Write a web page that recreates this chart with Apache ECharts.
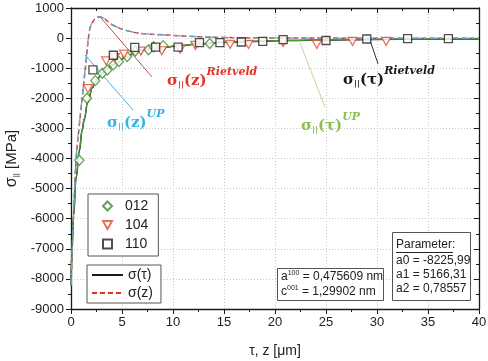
<!DOCTYPE html>
<html><head><meta charset="utf-8">
<script src="https://cdn.jsdelivr.net/npm/echarts@6/dist/echarts.min.js"></script>
<style>html,body{margin:0;padding:0;background:#fff}#c{width:488px;height:361px}</style>
</head><body><div id="c"></div>
<script>
// ---- data ----
const xRange = [0, 40];
const yRange = [-9000, 1000];

// sigma(tau) fit curve (black) and UP curve (green)
const tauGrid   = [0, 0.1, 0.25, 0.5, 0.82, 1.1, 1.3, 1.63, 2.1, 2.4, 3.07, 3.6, 4.15, 5.5, 6.3, 6.8, 8.7, 10.7, 12.6, 14.6, 17.5, 21.5, 25, 29.3, 35, 40];
const sigmaTau  = [-8230, -7000, -5900, -4650, -3750, -3050, -2700, -2150, -1650, -1450, -1170, -1010, -880, -620, -480, -400, -320, -250, -190, -150, -110, -80, -60, -45, -35, -30];
const sigmaTauUP= [-8230, -6950, -5850, -4600, -3700, -3020, -2680, -2130, -1640, -1440, -1160, -1000, -870, -610, -470, -395, -315, -245, -185, -145, -105, -75, -55, -40, -30, -25];

// sigma(z) fit curve (red dashed) and UP curve (cyan dash-dot)
const zGrid     = [0, 0.2, 0.5, 0.8, 1.15, 1.5, 1.83, 2.15, 2.5, 2.8, 3.3, 3.95, 5.1, 6.2, 7.5, 9.4, 11, 12.6, 15, 20, 25, 30, 40];
const sigmaZ    = [-8230, -6300, -4050, -2950, -1830, -700, 280, 550, 680, 700, 640, 460, 290, 190, 140, 100, 70, 45, 20, 5, 0, -5, -5];
const sigmaZUP  = [-8230, -6250, -4000, -2900, -1790, -660, 300, 560, 690, 705, 645, 465, 295, 195, 140, 100, 70, 45, 20, 5, 0, -5, -5];

// measured points
const pts012 = [[0.82,-4057],[1.57,-2000],[2.38,-1413],[3.07,-1167],[3.56,-1057],[4.15,-890],[4.7,-780],[5.5,-613],[6.3,-430],[7.6,-390],[8.1,-290],[9.05,-250],[13.6,-180]];
const pts104 = [[1.67,-1680],[3.45,-760],[4.3,-650],[5.2,-530],[6.85,-430],[8.9,-420],[10.7,-370],[12.2,-240],[15.6,-210],[17.4,-210],[20.8,-140],[24.1,-210],[27.6,-110],[30.9,-110]];
const pts110 = [[2.15,-1057],[4.15,-570],[6.25,-310],[8.3,-300],[10.5,-300],[12.6,-150],[14.6,-150],[16.7,-130],[18.8,-110],[20.8,-50],[25,-80],[29,-30],[33,-15],[37,-20]];

// pointer lines (data coordinates)
const ptrRed   = [[2.84, 710], [7.94, -1290]];
const ptrCyan  = [[1.37, -557], [6.08, -2390]];
const ptrGreen = [[22.45, -157], [24.9, -2290]];
const ptrBlack = [[29.3, -57], [30.1, -857]];

const zip = (xs, ys) => xs.map((x, i) => [x, ys[i]]);
const ml = (p, color) => ({
  symbol: ['none', 'none'], silent: true, animation: false,
  label: { show: false },
  lineStyle: { color: color, type: 'solid', width: 1 },
  data: [[{ coord: p[0] }, { coord: p[1] }]]
});

const RED = '#e2342b', CYAN = '#35b4e2', GREEN = '#8cc152', DGREEN = '#4a9a35', BLACK = '#1a1a1a';
const FONT = 'Liberation Sans, Arial, sans-serif';
const SERIF = 'DejaVu Serif, serif';
const TRI_DOWN = 'path://M0,0 L10,0 L5,9 Z';

const chart = echarts.init(document.getElementById('c'), null, { renderer: 'canvas' });

function mathLabel(x, y, color, arg, sup) {
  return {
    type: 'text', x: x, y: y, z: 100,
    style: {
      text: '{m|σ}{s|||}{m|(' + arg + ')}{p|' + sup + '}',
      fill: color, textVerticalAlign: 'middle', textAlign: 'left',
      rich: {
        m: { fontSize: 15, fontWeight: 'bold', fontFamily: SERIF, fill: color, lineHeight: 22, verticalAlign: 'bottom' },
        s: { fontSize: 8, fontWeight: 'bold', fontFamily: SERIF, fill: color, lineHeight: 22, verticalAlign: 'bottom' },
        p: { fontSize: 11, fontWeight: 'bold', fontStyle: 'italic', fontFamily: SERIF, fill: color, lineHeight: 22, verticalAlign: 'top' }
      }
    }
  };
}

const plain = v => String(v);

const option = {
  animation: false,
  backgroundColor: '#fff',
  grid: { left: 71, right: 9, top: 8, bottom: 52, outerBoundsMode: 'none', containLabel: false },
  xAxis: [{
    type: 'value', min: xRange[0], max: xRange[1], interval: 5, position: 'bottom',
    axisLine: { show: true, onZero: false, lineStyle: { color: BLACK, width: 1.3 } },
    axisTick: { show: true, inside: false, length: 5, lineStyle: { color: BLACK } },
    minorTick: { show: true, splitNumber: 2, length: 3, lineStyle: { color: BLACK } },
    axisLabel: { fontSize: 13, color: '#222', fontFamily: FONT, margin: 7, formatter: plain },
    splitLine: { show: true, lineStyle: { color: '#c8c8c8', type: [1, 2] } },
    name: 'τ, z [μm]', nameLocation: 'middle', nameGap: 35,
    nameTextStyle: { fontSize: 14, color: '#222', fontFamily: FONT }
  }, {
    type: 'value', min: xRange[0], max: xRange[1], interval: 5, position: 'top',
    axisLine: { show: true, onZero: false, lineStyle: { color: BLACK, width: 1.3 } },
    axisTick: { show: true, inside: true, length: 5, lineStyle: { color: BLACK } },
    minorTick: { show: true, splitNumber: 2, length: 3, lineStyle: { color: BLACK } },
    axisLabel: { show: false }, splitLine: { show: false }
  }],
  yAxis: [{
    type: 'value', min: yRange[0], max: yRange[1], interval: 1000, position: 'left',
    axisLine: { show: true, onZero: false, lineStyle: { color: BLACK, width: 1.3 } },
    axisTick: { show: true, inside: false, length: 5, lineStyle: { color: BLACK } },
    minorTick: { show: true, splitNumber: 2, length: 3, lineStyle: { color: BLACK } },
    axisLabel: { fontSize: 13, color: '#222', fontFamily: FONT, margin: 7, formatter: plain },
    splitLine: { show: true, lineStyle: { color: '#c8c8c8', type: [1, 2] } },
    name: '{s|σ}{b|||} [MPa]', nameLocation: 'middle', nameGap: 51,
    nameTextStyle: { fontSize: 15, color: '#222', fontFamily: FONT,
      rich: { s: { fontSize: 16, fontFamily: FONT, color: '#222' }, b: { fontSize: 8, color: '#222', verticalAlign: 'bottom', padding: [8, 0, 0, 0] } } }
  }, {
    type: 'value', min: yRange[0], max: yRange[1], interval: 1000, position: 'right',
    axisLine: { show: true, onZero: false, lineStyle: { color: BLACK, width: 1.3 } },
    axisTick: { show: true, inside: true, length: 5, lineStyle: { color: BLACK } },
    minorTick: { show: true, splitNumber: 2, length: 3, lineStyle: { color: BLACK } },
    axisLabel: { show: false }, splitLine: { show: false }
  }],
  legend: [{
    left: 88, top: 194, orient: 'vertical',
    data: ['012', '104', '110'],
    backgroundColor: '#fff', borderColor: '#555', borderWidth: 1,
    padding: [5, 10, 5, 14], itemGap: 5, itemWidth: 9, itemHeight: 9,
    textStyle: { fontSize: 14, color: '#222', fontFamily: FONT, padding: [0, 0, 0, 8] }
  }, {
    left: 87, top: 265, orient: 'vertical',
    data: ['σ(τ)', 'σ(z)'],
    backgroundColor: '#fff', borderColor: '#555', borderWidth: 1,
    padding: [3, 8, 3, 4], itemGap: 4, itemWidth: 31, itemHeight: 12,
    itemStyle: { opacity: 0 },
    textStyle: { fontSize: 14, color: '#222', fontFamily: FONT }
  }],
  series: [
    { name: 'σ(τ)', type: 'line', data: zip(tauGrid, sigmaTau), showSymbol: false, symbol: 'none',
      smooth: 0.4, smoothMonotone: 'x', z: 3,
      lineStyle: { color: BLACK, width: 1.5 }, itemStyle: { color: BLACK },
      markLine: ml(ptrBlack, '#333') },
    { name: 'σ(τ) UP', type: 'line', data: zip(tauGrid, sigmaTauUP), showSymbol: false, symbol: 'none',
      smooth: 0.4, smoothMonotone: 'x', z: 4,
      lineStyle: { color: DGREEN, width: 1.3 }, itemStyle: { color: DGREEN },
      markLine: ml(ptrGreen, '#c9d39a') },
    { name: 'σ(z)', type: 'line', data: zip(zGrid, sigmaZ), showSymbol: false, symbol: 'none',
      smooth: 0.4, z: 3,
      lineStyle: { color: RED, width: 1.5, type: [5, 3] }, itemStyle: { color: RED },
      markLine: ml(ptrRed, '#c0504d') },
    { name: 'σ(z) UP', type: 'line', data: zip(zGrid, sigmaZUP), showSymbol: false, symbol: 'none',
      smooth: 0.4, z: 4,
      lineStyle: { color: '#6aa6c8', width: 1.3, type: [8, 3, 2, 3] }, itemStyle: { color: CYAN },
      markLine: ml(ptrCyan, CYAN) },
    { name: '012', type: 'scatter', data: pts012, symbol: 'diamond', symbolSize: [9, 10], z: 10,
      itemStyle: { color: '#fff', borderColor: '#3c8c30', borderWidth: 1.3 } },
    { name: '104', type: 'scatter', data: pts104, symbol: TRI_DOWN, symbolSize: [9, 8], z: 10,
      itemStyle: { color: '#fff', borderColor: '#e24a32', borderWidth: 1.3 } },
    { name: '110', type: 'scatter', data: pts110, symbol: 'rect', symbolSize: 8, z: 11,
      itemStyle: { color: '#fff', borderColor: '#222', borderWidth: 1.3 } }
  ],
  graphic: [
    mathLabel(167, 78, RED, 'z', 'Rietveld'),
    mathLabel(343, 77, BLACK, 'τ', 'Rietveld'),
    mathLabel(107, 120, CYAN, 'z', 'UP'),
    mathLabel(301, 123, GREEN, 'τ', 'UP'),
    { type: 'rect', z: 50, shape: { x: 277.5, y: 268.5, width: 106, height: 32 },
      style: { fill: '#fff', stroke: '#555', lineWidth: 1 } },
    { type: 'text', z: 51, x: 281, y: 277, style: {
        text: 'a{u|100} = 0,475609 nm', fill: '#222', font: '12px ' + FONT, textVerticalAlign: 'middle',
        rich: { u: { fontSize: 7, fontFamily: FONT, fill: '#222', verticalAlign: 'top', lineHeight: 14 } } } },
    { type: 'text', z: 51, x: 281, y: 292, style: {
        text: 'c{u|001} = 1,29902 nm', fill: '#222', font: '12px ' + FONT, textVerticalAlign: 'middle',
        rich: { u: { fontSize: 7, fontFamily: FONT, fill: '#222', verticalAlign: 'top', lineHeight: 14 } } } },
    { type: 'rect', z: 50, shape: { x: 392.5, y: 232.5, width: 78, height: 68 },
      style: { fill: '#fff', stroke: '#555', lineWidth: 1 } },
    { type: 'text', z: 51, x: 396, y: 245, style: { text: 'Parameter:', fill: '#222', font: '12px ' + FONT, textVerticalAlign: 'middle' } },
    { type: 'line', z: 51, shape: { x1: 396, y1: 252.5, x2: 453, y2: 252.5 }, style: { stroke: '#222', lineWidth: 1 } },
    { type: 'text', z: 51, x: 396, y: 261, style: { text: 'a0 = -8225,99', fill: '#222', font: '12px ' + FONT, textVerticalAlign: 'middle' } },
    { type: 'text', z: 51, x: 396, y: 275, style: { text: 'a1 = 5166,31', fill: '#222', font: '12px ' + FONT, textVerticalAlign: 'middle' } },
    { type: 'text', z: 51, x: 396, y: 289, style: { text: 'a2 = 0,78557', fill: '#222', font: '12px ' + FONT, textVerticalAlign: 'middle' } }
  ]
};
chart.setOption(option);
</script>
</body></html>
